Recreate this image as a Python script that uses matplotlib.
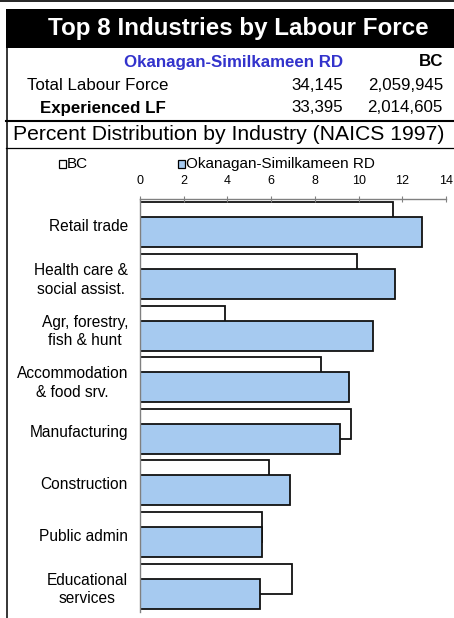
import matplotlib
matplotlib.use("Agg")
import matplotlib.pyplot as plt
from matplotlib.patches import Rectangle
from matplotlib.lines import Line2D

plt.rcParams['font.family'] = ['Liberation Sans', 'DejaVu Sans']

# ---- data ----
categories = ["Retail trade", "Health care &\nsocial assist.", "Agr, forestry,\nfish & hunt",
              "Accommodation\n& food srv.", "Manufacturing", "Construction",
              "Public admin", "Educational\nservices"]
bc_values = [11.57, 9.94, 3.91, 8.30, 9.64, 5.89, 5.60, 6.94]
os_values = [12.92, 11.67, 10.65, 9.55, 9.17, 6.85, 5.58, 5.48]
region_name = "Okanagan-Similkameen RD"
total_lf = ["34,145", "2,059,945"]
experienced_lf = ["33,395", "2,014,605"]
xticks = [0, 2, 4, 6, 8, 10, 12, 14]

W, H = 454, 618
fig = plt.figure(figsize=(W / 100, H / 100), dpi=100)

def fx(px):
    return px / W

def fy(py):
    return 1 - py / H

# top rule
fig.add_artist(Line2D([0, 1], [fy(0.8), fy(0.8)], color='black', lw=1.2))
# title box
fig.add_artist(Rectangle((fx(6), fy(48)), fx(454) - fx(6), fy(9) - fy(48),
                         facecolor='black', edgecolor='none', transform=fig.transFigure))
fig.text(fx(238), fy(29), "Top 8 Industries by Labour Force", color='white',
         fontsize=17.4, fontweight='bold', ha='center', va='center')
# left border
fig.add_artist(Line2D([fx(7), fx(7)], [fy(48), fy(618)], color='black', lw=1.1))
# separators
fig.add_artist(Line2D([fx(6), 1], [fy(121), fy(121)], color='black', lw=1.5))
fig.add_artist(Line2D([fx(6), 1], [fy(147.5), fy(147.5)], color='black', lw=0.9))

# header rows
fs_hdr = 12.2
fig.text(fx(343), fy(62), region_name, color='#3333CC', fontsize=fs_hdr,
         fontweight='bold', ha='right', va='center')
fig.text(fx(443), fy(62), "BC", color='black', fontsize=fs_hdr,
         fontweight='bold', ha='right', va='center')
fig.text(fx(27), fy(86), "Total Labour Force", fontsize=fs_hdr, ha='left', va='center')
fig.text(fx(343), fy(86), total_lf[0], fontsize=fs_hdr, ha='right', va='center')
fig.text(fx(443), fy(86), total_lf[1], fontsize=fs_hdr, ha='right', va='center')
fig.text(fx(40), fy(108), "Experienced LF", fontsize=fs_hdr, fontweight='bold',
         ha='left', va='center')
fig.text(fx(343), fy(108), experienced_lf[0], fontsize=fs_hdr, ha='right', va='center')
fig.text(fx(443), fy(108), experienced_lf[1], fontsize=fs_hdr, ha='right', va='center')
fig.text(fx(228.5), fy(134), "Percent Distribution by Industry (NAICS 1997)",
         fontsize=15.2, ha='center', va='center')

# legend (manual)
bc_face = 'white'
os_face = '#A6CAF0'
fig.add_artist(Rectangle((fx(58.5), fy(168.3)), fx(7), fy(160.3) - fy(168.3),
                         facecolor=bc_face, edgecolor='black', lw=0.9,
                         transform=fig.transFigure))
fig.text(fx(67), fy(164.5), "BC", fontsize=11, ha='left', va='center')
fig.add_artist(Rectangle((fx(178), fy(168.3)), fx(7), fy(160.3) - fy(168.3),
                         facecolor=os_face, edgecolor='black', lw=0.9,
                         transform=fig.transFigure))
fig.text(fx(186.5), fy(164.5), region_name, fontsize=11, ha='left', va='center')

# chart axes
ax = fig.add_axes([fx(140), fy(612), fx(446) - fx(140), fy(199) - fy(612)])
n = len(categories)
pos = list(range(n))
bh = 0.58
off = 0.145
ax.barh([p - off for p in pos], bc_values, height=bh, color=bc_face,
        edgecolor='#111111', linewidth=1.3)
ax.barh([p + off for p in pos], os_values, height=bh, color=os_face,
        edgecolor='#111111', linewidth=1.3)
ax.set_xlim(0, 14)
ax.set_ylim(n - 0.5, -0.5)
ax.set_xticks(xticks)
ax.xaxis.tick_top()
ax.tick_params(axis='x', direction='inout', length=4, width=0.8, color='#808080',
               labelsize=9, pad=7)
ax.set_yticks(pos)
ax.set_yticklabels(categories, fontsize=11.2, multialignment='center', linespacing=1.3)
ax.tick_params(axis='y', length=0, pad=8.6)
for s in ['right', 'bottom']:
    ax.spines[s].set_visible(False)
ax.spines['top'].set_color('#808080')
ax.spines['left'].set_color('#808080')
ax.spines['top'].set_linewidth(1.0)
ax.spines['left'].set_linewidth(1.0)
ax.set_facecolor('none')

fig.savefig("out.png", dpi=100)
